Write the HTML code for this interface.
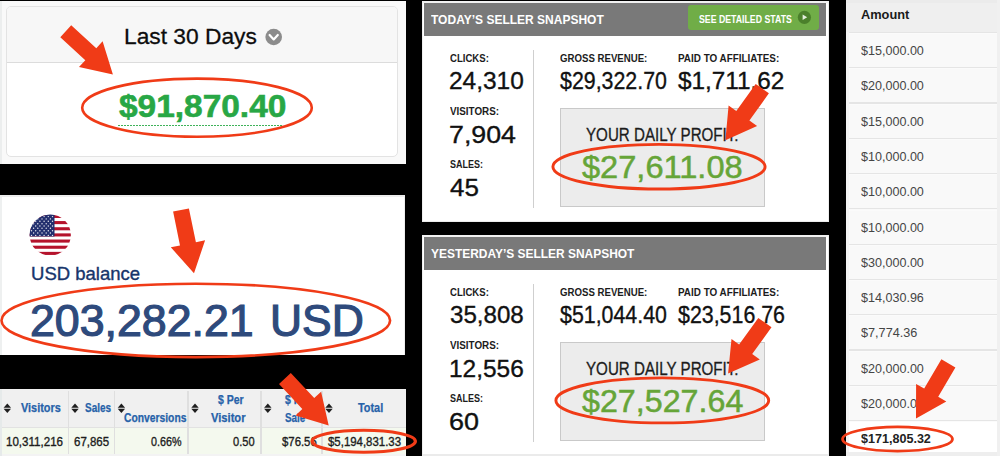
<!DOCTYPE html>
<html><head><meta charset="utf-8"><title>Income snapshots</title>
<style>
html,body{margin:0;padding:0;}
body{width:1000px;height:456px;background:#000;position:relative;overflow:hidden;font-family:"Liberation Sans", sans-serif;}
.b{position:absolute;box-sizing:border-box;}
.t{position:absolute;white-space:pre;line-height:1;transform-origin:0 0;}
svg{position:absolute;left:0;top:0;}
</style></head><body>
<div class="b" style="left:0px;top:1px;width:406px;height:163px;background:#f9f9f9;"></div>
<div class="b" style="left:0px;top:1px;width:2px;height:163px;background:#eceeee;"></div>
<div class="b" style="left:6px;top:6px;width:392px;height:151px;background:#ffffff;border:1px solid #e3e3e3;border-radius:5px;"></div>
<div class="b" style="left:7px;top:7px;width:390px;height:56px;background:#f7f7f7;border-bottom:1.3px solid #dcdcdc;border-radius:4px 4px 0 0;"></div>
<div class="b" style="left:117.5px;top:125px;width:165.0px;height:1.4px;background:transparent;background-image:repeating-linear-gradient(90deg,#3fb25a 0,#3fb25a 2px,transparent 2px,transparent 3px);"></div>
<div class="b" style="left:0px;top:195px;width:405px;height:160px;background:#ffffff;"></div>
<div class="b" style="left:0px;top:195px;width:2px;height:160px;background:#eef0f0;"></div>
<div class="b" style="left:0px;top:195px;width:405px;height:1.6px;background:#ededed;"></div>
<div class="b" style="left:403.7px;top:195px;width:1.3px;height:160px;background:#eeeeee;"></div>
<div class="b" style="left:0px;top:389px;width:406px;height:67px;background:#f0f0f0;"></div>
<div class="b" style="left:0px;top:428px;width:406px;height:26px;background:#f4f9ee;"></div>
<div class="b" style="left:0px;top:427px;width:406px;height:1px;background:#e2e2e2;"></div>
<div class="b" style="left:0px;top:454px;width:406px;height:2px;background:#f3f3f3;"></div>
<div class="b" style="left:67.6px;top:390.5px;width:1.5px;height:63.5px;background:#dfdfdf;"></div>
<div class="b" style="left:113.8px;top:390.5px;width:1.5px;height:63.5px;background:#dfdfdf;"></div>
<div class="b" style="left:187.2px;top:390.5px;width:1.5px;height:63.5px;background:#dfdfdf;"></div>
<div class="b" style="left:260.2px;top:390.5px;width:1.5px;height:63.5px;background:#dfdfdf;"></div>
<div class="b" style="left:321.2px;top:390.5px;width:1.5px;height:63.5px;background:#dfdfdf;"></div>
<div class="b" style="left:0px;top:389px;width:1.8px;height:67px;background:#e6eaea;"></div>
<div class="b" style="left:422px;top:1px;width:407px;height:221px;background:#ffffff;"></div>
<div class="b" style="left:422px;top:1px;width:1.3px;height:221px;background:#efefef;"></div>
<div class="b" style="left:422px;top:1px;width:407px;height:1.6px;background:#f1f1f1;"></div>
<div class="b" style="left:827.6px;top:1px;width:1.4px;height:221px;background:#ececec;"></div>
<div class="b" style="left:424.2px;top:2.7px;width:402.1px;height:33.6px;background:#797979;"></div>
<div class="b" style="left:533.3px;top:50px;width:1.2px;height:158px;background:#cfcfcf;"></div>
<div class="b" style="left:560px;top:108px;width:205px;height:99px;background:#ececec;border:1px solid #c9c9c9;"></div>
<div class="b" style="left:422px;top:235px;width:407px;height:221px;background:#ffffff;"></div>
<div class="b" style="left:422px;top:235px;width:1.3px;height:221px;background:#efefef;"></div>
<div class="b" style="left:422px;top:235px;width:407px;height:1.6px;background:#f1f1f1;"></div>
<div class="b" style="left:827.6px;top:235px;width:1.4px;height:221px;background:#ececec;"></div>
<div class="b" style="left:424.2px;top:236.7px;width:402.1px;height:33.6px;background:#797979;"></div>
<div class="b" style="left:533.3px;top:284px;width:1.2px;height:158px;background:#cfcfcf;"></div>
<div class="b" style="left:560px;top:342px;width:205px;height:99px;background:#ececec;border:1px solid #c9c9c9;"></div>
<div class="b" style="left:422px;top:454.2px;width:407px;height:1.8px;background:#ebebeb;"></div>
<div class="b" style="left:422px;top:220.6px;width:407px;height:1.4px;background:#ececec;"></div>
<div class="b" style="left:688.4px;top:5.4px;width:131.0px;height:25.0px;background:#70ad47;border-radius:3px;"></div>
<div class="b" style="left:846px;top:0px;width:154px;height:456px;background:#f9f9f9;"></div>
<div class="b" style="left:846px;top:0px;width:154px;height:32px;background:#efefef;"></div>
<div class="b" style="left:846px;top:0px;width:154px;height:2.7px;background:#ebebeb;"></div>
<div class="b" style="left:848.5px;top:31.7px;width:151.5px;height:1.3px;background:#e5e5e5;"></div>
<div class="b" style="left:848.5px;top:33.0px;width:151.5px;height:1.0px;background:#fbfbfb;"></div>
<div class="b" style="left:848.5px;top:67.0px;width:151.5px;height:1.3px;background:#e5e5e5;"></div>
<div class="b" style="left:848.5px;top:68.3px;width:151.5px;height:1.0px;background:#fbfbfb;"></div>
<div class="b" style="left:848.5px;top:102.3px;width:151.5px;height:1.3px;background:#e5e5e5;"></div>
<div class="b" style="left:848.5px;top:103.6px;width:151.5px;height:1.0px;background:#fbfbfb;"></div>
<div class="b" style="left:848.5px;top:137.6px;width:151.5px;height:1.3px;background:#e5e5e5;"></div>
<div class="b" style="left:848.5px;top:138.9px;width:151.5px;height:1.0px;background:#fbfbfb;"></div>
<div class="b" style="left:848.5px;top:172.9px;width:151.5px;height:1.3px;background:#e5e5e5;"></div>
<div class="b" style="left:848.5px;top:174.2px;width:151.5px;height:1.0px;background:#fbfbfb;"></div>
<div class="b" style="left:848.5px;top:208.2px;width:151.5px;height:1.3px;background:#e5e5e5;"></div>
<div class="b" style="left:848.5px;top:209.5px;width:151.5px;height:1.0px;background:#fbfbfb;"></div>
<div class="b" style="left:848.5px;top:243.5px;width:151.5px;height:1.3px;background:#e5e5e5;"></div>
<div class="b" style="left:848.5px;top:244.8px;width:151.5px;height:1.0px;background:#fbfbfb;"></div>
<div class="b" style="left:848.5px;top:278.8px;width:151.5px;height:1.3px;background:#e5e5e5;"></div>
<div class="b" style="left:848.5px;top:280.1px;width:151.5px;height:1.0px;background:#fbfbfb;"></div>
<div class="b" style="left:848.5px;top:314.1px;width:151.5px;height:1.3px;background:#e5e5e5;"></div>
<div class="b" style="left:848.5px;top:315.4px;width:151.5px;height:1.0px;background:#fbfbfb;"></div>
<div class="b" style="left:848.5px;top:349.4px;width:151.5px;height:1.3px;background:#e5e5e5;"></div>
<div class="b" style="left:848.5px;top:350.7px;width:151.5px;height:1.0px;background:#fbfbfb;"></div>
<div class="b" style="left:848.5px;top:384.7px;width:151.5px;height:1.3px;background:#e5e5e5;"></div>
<div class="b" style="left:848.5px;top:386.0px;width:151.5px;height:1.0px;background:#fbfbfb;"></div>
<div class="b" style="left:848.5px;top:420.0px;width:151.5px;height:1.3px;background:#e5e5e5;"></div>
<div class="b" style="left:848.5px;top:421.3px;width:151.5px;height:1.0px;background:#fbfbfb;"></div>
<div class="b" style="left:848px;top:421.5px;width:152px;height:30.0px;background:#ffffff;"></div>
<div class="b" style="left:846px;top:451.5px;width:154px;height:4.5px;background:#eeeeee;"></div>
<div class="b" style="left:997px;top:0px;width:3px;height:456px;background:#f0f0f0;"></div>
<div class="b" style="left:846px;top:32px;width:2.5px;height:419.5px;background:#f3f3f3;"></div>
<span class="t" style="left:123.71px;top:25.22px;font-size:22.9px;font-weight:400;color:#0d0d0d;transform:scaleX(0.9943);-webkit-text-stroke:0.3px #0d0d0d;">Last 30 Days</span>
<span class="t" style="left:119.20px;top:90.64px;font-size:31.5px;font-weight:700;color:#28a745;transform:scaleX(1.0615);-webkit-text-stroke:0.6px #28a745;">$91,870.40</span>
<span class="t" style="left:30.76px;top:265.63px;font-size:17.8px;font-weight:400;color:#17356b;transform:scaleX(1.0416);-webkit-text-stroke:0.35px #17356b;">USD balance</span>
<span class="t" style="left:30.07px;top:299.05px;font-size:44px;font-weight:400;color:#2e4a7c;transform:scaleX(1.0155);-webkit-text-stroke:1.2px #2e4a7c;">203,282.21</span>
<span class="t" style="left:270.17px;top:299.05px;font-size:44px;font-weight:400;color:#2e4a7c;transform:scaleX(1.0100);-webkit-text-stroke:1.2px #2e4a7c;">USD</span>
<span class="t" style="left:21.00px;top:402.44px;font-size:12px;font-weight:700;color:#2762a9;transform:scaleX(0.9065);-webkit-text-stroke:0.25px #2762a9;">Visitors</span>
<span class="t" style="left:85.00px;top:402.44px;font-size:12px;font-weight:700;color:#2762a9;transform:scaleX(0.8300);-webkit-text-stroke:0.25px #2762a9;">Sales</span>
<span class="t" style="left:124.30px;top:412.14px;font-size:12px;font-weight:700;color:#2762a9;transform:scaleX(0.8588);-webkit-text-stroke:0.25px #2762a9;">Conversions</span>
<span class="t" style="left:218.00px;top:393.74px;font-size:12px;font-weight:700;color:#2762a9;transform:scaleX(0.8758);-webkit-text-stroke:0.25px #2762a9;">$ Per</span>
<span class="t" style="left:211.40px;top:412.44px;font-size:12px;font-weight:700;color:#2762a9;transform:scaleX(0.9291);-webkit-text-stroke:0.25px #2762a9;">Visitor</span>
<span class="t" style="left:285.00px;top:393.74px;font-size:12px;font-weight:700;color:#2762a9;transform:scaleX(0.8758);-webkit-text-stroke:0.25px #2762a9;">$ Per</span>
<span class="t" style="left:285.00px;top:412.44px;font-size:12px;font-weight:700;color:#2762a9;transform:scaleX(0.8236);-webkit-text-stroke:0.25px #2762a9;">Sale</span>
<span class="t" style="left:358.40px;top:402.44px;font-size:12px;font-weight:700;color:#2762a9;transform:scaleX(0.9075);-webkit-text-stroke:0.25px #2762a9;">Total</span>
<span class="t" style="left:5.90px;top:435.72px;font-size:12.5px;font-weight:400;color:#1d1d1d;transform:scaleX(0.9257);-webkit-text-stroke:0.35px #1d1d1d;">10,311,216</span>
<span class="t" style="left:74.00px;top:435.72px;font-size:12.5px;font-weight:400;color:#1d1d1d;transform:scaleX(0.9195);-webkit-text-stroke:0.35px #1d1d1d;">67,865</span>
<span class="t" style="left:151.20px;top:435.72px;font-size:12.5px;font-weight:400;color:#1d1d1d;transform:scaleX(0.8605);-webkit-text-stroke:0.35px #1d1d1d;">0.66%</span>
<span class="t" style="left:233.40px;top:435.72px;font-size:12.5px;font-weight:400;color:#1d1d1d;transform:scaleX(0.8861);-webkit-text-stroke:0.35px #1d1d1d;">0.50</span>
<span class="t" style="left:281.80px;top:435.72px;font-size:12.5px;font-weight:400;color:#1d1d1d;transform:scaleX(0.9091);-webkit-text-stroke:0.35px #1d1d1d;">$76.56</span>
<span class="t" style="left:327.60px;top:435.72px;font-size:12.5px;font-weight:400;color:#1d1d1d;transform:scaleX(0.9139);-webkit-text-stroke:0.35px #1d1d1d;">$5,194,831.33</span>
<span class="t" style="left:431.30px;top:13.19px;font-size:13.6px;font-weight:700;color:#ffffff;transform:scaleX(0.8832);">TODAY’S SELLER SNAPSHOT</span>
<span class="t" style="left:449.80px;top:53.83px;font-size:10.0px;font-weight:700;color:#1c1c1c;transform:scaleX(0.9572);">CLICKS:</span>
<span class="t" style="left:449.33px;top:69.48px;font-size:24px;font-weight:400;color:#111;transform:scaleX(1.0186);-webkit-text-stroke:0.35px #111;">24,310</span>
<span class="t" style="left:449.80px;top:107.13px;font-size:10.0px;font-weight:700;color:#1c1c1c;transform:scaleX(0.9840);">VISITORS:</span>
<span class="t" style="left:449.23px;top:123.28px;font-size:24px;font-weight:400;color:#111;transform:scaleX(1.1156);-webkit-text-stroke:0.35px #111;">7,904</span>
<span class="t" style="left:449.80px;top:160.13px;font-size:10.0px;font-weight:700;color:#1c1c1c;transform:scaleX(0.8998);">SALES:</span>
<span class="t" style="left:450.35px;top:175.68px;font-size:24px;font-weight:400;color:#111;transform:scaleX(1.0817);-webkit-text-stroke:0.35px #111;">45</span>
<span class="t" style="left:559.80px;top:53.83px;font-size:10.0px;font-weight:700;color:#1c1c1c;transform:scaleX(0.9641);">GROSS REVENUE:</span>
<span class="t" style="left:560.15px;top:69.48px;font-size:24px;font-weight:400;color:#111;transform:scaleX(0.8900);-webkit-text-stroke:0.35px #111;">$29,322.70</span>
<span class="t" style="left:677.60px;top:53.83px;font-size:10.0px;font-weight:700;color:#1c1c1c;transform:scaleX(0.9888);">PAID TO AFFILIATES:</span>
<span class="t" style="left:677.75px;top:69.48px;font-size:24px;font-weight:400;color:#111;transform:scaleX(1.0130);-webkit-text-stroke:0.35px #111;">$1,711.62</span>
<span class="t" style="left:585.75px;top:126.79px;font-size:17.5px;font-weight:400;color:#1c1c1c;transform:scaleX(0.8653);-webkit-text-stroke:0.3px #1c1c1c;">YOUR DAILY PROFIT:</span>
<span class="t" style="left:582.00px;top:152.18px;font-size:30.5px;font-weight:400;color:#66a538;transform:scaleX(1.0681);-webkit-text-stroke:0.5px #66a538;">$27,611.08</span>
<span class="t" style="left:430.80px;top:247.19px;font-size:13.6px;font-weight:700;color:#ffffff;transform:scaleX(0.8790);">YESTERDAY’S SELLER SNAPSHOT</span>
<span class="t" style="left:449.80px;top:287.84px;font-size:10.0px;font-weight:700;color:#1c1c1c;transform:scaleX(0.9572);">CLICKS:</span>
<span class="t" style="left:450.35px;top:303.48px;font-size:24px;font-weight:400;color:#111;transform:scaleX(1.0047);-webkit-text-stroke:0.35px #111;">35,808</span>
<span class="t" style="left:449.80px;top:341.14px;font-size:10.0px;font-weight:700;color:#1c1c1c;transform:scaleX(0.9840);">VISITORS:</span>
<span class="t" style="left:449.33px;top:357.28px;font-size:24px;font-weight:400;color:#111;transform:scaleX(1.0186);-webkit-text-stroke:0.35px #111;">12,556</span>
<span class="t" style="left:449.80px;top:394.14px;font-size:10.0px;font-weight:700;color:#1c1c1c;transform:scaleX(0.8998);">SALES:</span>
<span class="t" style="left:449.23px;top:409.68px;font-size:24px;font-weight:400;color:#111;transform:scaleX(1.1244);-webkit-text-stroke:0.35px #111;">60</span>
<span class="t" style="left:559.80px;top:287.84px;font-size:10.0px;font-weight:700;color:#1c1c1c;transform:scaleX(0.9641);">GROSS REVENUE:</span>
<span class="t" style="left:560.15px;top:303.48px;font-size:24px;font-weight:400;color:#111;transform:scaleX(0.8900);-webkit-text-stroke:0.35px #111;">$51,044.40</span>
<span class="t" style="left:677.60px;top:287.84px;font-size:10.0px;font-weight:700;color:#1c1c1c;transform:scaleX(0.9888);">PAID TO AFFILIATES:</span>
<span class="t" style="left:677.75px;top:303.48px;font-size:24px;font-weight:400;color:#111;transform:scaleX(0.8909);-webkit-text-stroke:0.35px #111;">$23,516.76</span>
<span class="t" style="left:585.75px;top:360.79px;font-size:17.5px;font-weight:400;color:#1c1c1c;transform:scaleX(0.8653);-webkit-text-stroke:0.3px #1c1c1c;">YOUR DAILY PROFIT:</span>
<span class="t" style="left:582.00px;top:386.18px;font-size:30.5px;font-weight:400;color:#66a538;transform:scaleX(1.0571);-webkit-text-stroke:0.5px #66a538;">$27,527.64</span>
<span class="t" style="left:698.80px;top:13.81px;font-size:10.5px;font-weight:700;color:#ffffff;transform:scaleX(0.8329);">SEE DETAILED STATS</span>
<span class="t" style="left:860.70px;top:9.14px;font-size:12px;font-weight:700;color:#1a1a1a;transform:scaleX(1.0656);">Amount</span>
<span class="t" style="left:860.70px;top:45.04px;font-size:12px;font-weight:400;color:#454545;transform:scaleX(1.0466);">$15,000.00</span>
<span class="t" style="left:860.70px;top:80.34px;font-size:12px;font-weight:400;color:#454545;transform:scaleX(1.0466);">$20,000.00</span>
<span class="t" style="left:860.70px;top:115.64px;font-size:12px;font-weight:400;color:#454545;transform:scaleX(1.0466);">$15,000.00</span>
<span class="t" style="left:860.70px;top:150.94px;font-size:12px;font-weight:400;color:#454545;transform:scaleX(1.0466);">$10,000.00</span>
<span class="t" style="left:860.70px;top:186.24px;font-size:12px;font-weight:400;color:#454545;transform:scaleX(1.0466);">$10,000.00</span>
<span class="t" style="left:860.70px;top:221.54px;font-size:12px;font-weight:400;color:#454545;transform:scaleX(1.0466);">$10,000.00</span>
<span class="t" style="left:860.70px;top:256.84px;font-size:12px;font-weight:400;color:#454545;transform:scaleX(1.0466);">$30,000.00</span>
<span class="t" style="left:860.70px;top:292.14px;font-size:12px;font-weight:400;color:#454545;transform:scaleX(1.0466);">$14,030.96</span>
<span class="t" style="left:860.70px;top:327.44px;font-size:12px;font-weight:400;color:#454545;transform:scaleX(1.0557);">$7,774.36</span>
<span class="t" style="left:860.70px;top:362.74px;font-size:12px;font-weight:400;color:#454545;transform:scaleX(1.0466);">$20,000.00</span>
<span class="t" style="left:860.70px;top:398.04px;font-size:12px;font-weight:400;color:#454545;transform:scaleX(1.0466);">$20,000.00</span>
<span class="t" style="left:860.70px;top:433.34px;font-size:12px;font-weight:700;color:#222;transform:scaleX(1.0468);">$171,805.32</span>
<svg width="1000" height="456" viewBox="0 0 1000 456">
<circle cx="273.7" cy="37" r="8.3" fill="#8c8c8c"/><polyline points="269.6,35 273.7,39.4 277.8,35" fill="none" stroke="#fff" stroke-width="2.2" stroke-linecap="round" stroke-linejoin="round"/>
<circle cx="804.4" cy="17.3" r="6.6" fill="#4b802b"/><polygon points="802.6,14.6 802.6,20.0 807.2,17.3" fill="#e4eedd"/>
<defs><clipPath id="fc"><circle cx="50.25" cy="235" r="20.6"/></clipPath></defs>
<g clip-path="url(#fc)"><rect x="29" y="213" width="43" height="44" fill="#ffffff"/><rect x="29" y="214.90" width="43" height="3.08" fill="#b5132c"/><rect x="29" y="221.06" width="43" height="3.08" fill="#b5132c"/><rect x="29" y="227.22" width="43" height="3.08" fill="#b5132c"/><rect x="29" y="233.38" width="43" height="3.08" fill="#b5132c"/><rect x="29" y="239.54" width="43" height="3.08" fill="#b5132c"/><rect x="29" y="245.70" width="43" height="3.08" fill="#b5132c"/><rect x="29" y="251.86" width="43" height="3.08" fill="#b5132c"/><rect x="29" y="213" width="25.5" height="23.46" fill="#232f6e"/><circle cx="31.5" cy="216.6" r="0.7" fill="#fff" opacity="0.9"/><circle cx="35.7" cy="216.6" r="0.7" fill="#fff" opacity="0.9"/><circle cx="39.9" cy="216.6" r="0.7" fill="#fff" opacity="0.9"/><circle cx="44.1" cy="216.6" r="0.7" fill="#fff" opacity="0.9"/><circle cx="48.3" cy="216.6" r="0.7" fill="#fff" opacity="0.9"/><circle cx="52.5" cy="216.6" r="0.7" fill="#fff" opacity="0.9"/><circle cx="33.6" cy="218.9" r="0.7" fill="#fff" opacity="0.9"/><circle cx="37.8" cy="218.9" r="0.7" fill="#fff" opacity="0.9"/><circle cx="42.0" cy="218.9" r="0.7" fill="#fff" opacity="0.9"/><circle cx="46.2" cy="218.9" r="0.7" fill="#fff" opacity="0.9"/><circle cx="50.4" cy="218.9" r="0.7" fill="#fff" opacity="0.9"/><circle cx="31.5" cy="221.3" r="0.7" fill="#fff" opacity="0.9"/><circle cx="35.7" cy="221.3" r="0.7" fill="#fff" opacity="0.9"/><circle cx="39.9" cy="221.3" r="0.7" fill="#fff" opacity="0.9"/><circle cx="44.1" cy="221.3" r="0.7" fill="#fff" opacity="0.9"/><circle cx="48.3" cy="221.3" r="0.7" fill="#fff" opacity="0.9"/><circle cx="52.5" cy="221.3" r="0.7" fill="#fff" opacity="0.9"/><circle cx="33.6" cy="223.7" r="0.7" fill="#fff" opacity="0.9"/><circle cx="37.8" cy="223.7" r="0.7" fill="#fff" opacity="0.9"/><circle cx="42.0" cy="223.7" r="0.7" fill="#fff" opacity="0.9"/><circle cx="46.2" cy="223.7" r="0.7" fill="#fff" opacity="0.9"/><circle cx="50.4" cy="223.7" r="0.7" fill="#fff" opacity="0.9"/><circle cx="31.5" cy="226.0" r="0.7" fill="#fff" opacity="0.9"/><circle cx="35.7" cy="226.0" r="0.7" fill="#fff" opacity="0.9"/><circle cx="39.9" cy="226.0" r="0.7" fill="#fff" opacity="0.9"/><circle cx="44.1" cy="226.0" r="0.7" fill="#fff" opacity="0.9"/><circle cx="48.3" cy="226.0" r="0.7" fill="#fff" opacity="0.9"/><circle cx="52.5" cy="226.0" r="0.7" fill="#fff" opacity="0.9"/><circle cx="33.6" cy="228.3" r="0.7" fill="#fff" opacity="0.9"/><circle cx="37.8" cy="228.3" r="0.7" fill="#fff" opacity="0.9"/><circle cx="42.0" cy="228.3" r="0.7" fill="#fff" opacity="0.9"/><circle cx="46.2" cy="228.3" r="0.7" fill="#fff" opacity="0.9"/><circle cx="50.4" cy="228.3" r="0.7" fill="#fff" opacity="0.9"/><circle cx="31.5" cy="230.7" r="0.7" fill="#fff" opacity="0.9"/><circle cx="35.7" cy="230.7" r="0.7" fill="#fff" opacity="0.9"/><circle cx="39.9" cy="230.7" r="0.7" fill="#fff" opacity="0.9"/><circle cx="44.1" cy="230.7" r="0.7" fill="#fff" opacity="0.9"/><circle cx="48.3" cy="230.7" r="0.7" fill="#fff" opacity="0.9"/><circle cx="52.5" cy="230.7" r="0.7" fill="#fff" opacity="0.9"/><circle cx="33.6" cy="233.0" r="0.7" fill="#fff" opacity="0.9"/><circle cx="37.8" cy="233.0" r="0.7" fill="#fff" opacity="0.9"/><circle cx="42.0" cy="233.0" r="0.7" fill="#fff" opacity="0.9"/><circle cx="46.2" cy="233.0" r="0.7" fill="#fff" opacity="0.9"/><circle cx="50.4" cy="233.0" r="0.7" fill="#fff" opacity="0.9"/><circle cx="31.5" cy="235.4" r="0.7" fill="#fff" opacity="0.9"/><circle cx="35.7" cy="235.4" r="0.7" fill="#fff" opacity="0.9"/><circle cx="39.9" cy="235.4" r="0.7" fill="#fff" opacity="0.9"/><circle cx="44.1" cy="235.4" r="0.7" fill="#fff" opacity="0.9"/><circle cx="48.3" cy="235.4" r="0.7" fill="#fff" opacity="0.9"/><circle cx="52.5" cy="235.4" r="0.7" fill="#fff" opacity="0.9"/></g>
<polygon fill="#1e1e1e" points="3.5999999999999996,407.7 11.0,407.7 7.3,403.5"/><polygon fill="#1e1e1e" points="3.5999999999999996,408.7 11.0,408.7 7.3,412.9"/><polygon fill="#1e1e1e" points="71.3,407.7 78.7,407.7 75,403.5"/><polygon fill="#1e1e1e" points="71.3,408.7 78.7,408.7 75,412.9"/><polygon fill="#1e1e1e" points="117.7,407.7 125.10000000000001,407.7 121.4,403.5"/><polygon fill="#1e1e1e" points="117.7,408.7 125.10000000000001,408.7 121.4,412.9"/><polygon fill="#1e1e1e" points="191.3,407.7 198.7,407.7 195,403.5"/><polygon fill="#1e1e1e" points="191.3,408.7 198.7,408.7 195,412.9"/><polygon fill="#1e1e1e" points="264.1,407.7 271.5,407.7 267.8,403.5"/><polygon fill="#1e1e1e" points="264.1,408.7 271.5,408.7 267.8,412.9"/><polygon fill="#1e1e1e" points="325.3,407.7 332.7,407.7 329,403.5"/><polygon fill="#1e1e1e" points="325.3,408.7 332.7,408.7 329,412.9"/>
<ellipse cx="197" cy="107.7" rx="114.8" ry="29.1" fill="none" stroke="#f03b17" stroke-width="2.6"/><ellipse cx="195.8" cy="320.4" rx="194.3" ry="36.7" fill="none" stroke="#f03b17" stroke-width="2.6"/><ellipse cx="363.8" cy="441.25" rx="51.6" ry="11.0" fill="none" stroke="#f03b17" stroke-width="3.2"/><ellipse cx="659" cy="166.7" rx="106.1" ry="22.3" fill="none" stroke="#f03b17" stroke-width="2.9"/><ellipse cx="662.3" cy="400.4" rx="106.4" ry="22.5" fill="none" stroke="#f03b17" stroke-width="2.9"/><ellipse cx="897.5" cy="439" rx="55.0" ry="12.1" fill="none" stroke="#f03b17" stroke-width="2.7"/>
<polygon fill="#f03b17" points="60.3,37.2 85.3,60.2 79.0,67.1 112.9,74.5 102.6,41.3 96.3,48.3 71.2,25.3"/><polygon fill="#f03b17" points="173.1,211.6 180.0,245.4 170.8,247.3 194.0,273.2 205.1,240.3 195.9,242.2 188.9,208.4"/><polygon fill="#f03b17" points="279.0,384.0 302.3,409.1 295.5,415.5 328.7,425.6 321.1,391.7 314.2,398.1 290.8,373.0"/><polygon fill="#f03b17" points="755.7,83.9 736.3,111.1 728.6,105.6 725.4,140.2 757.1,126.0 749.4,120.5 768.9,93.3"/><polygon fill="#f03b17" points="758.3,317.9 739.1,344.5 731.5,339.0 728.1,373.6 759.8,359.5 752.2,354.0 771.5,327.3"/><polygon fill="#f03b17" points="941.4,359.3 924.2,388.6 916.1,383.9 916.0,418.6 946.3,401.6 938.2,396.8 955.4,367.5"/>
</svg>
</body></html>
